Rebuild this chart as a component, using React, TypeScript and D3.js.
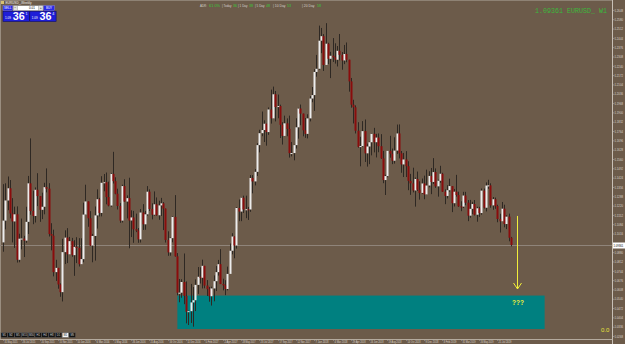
import React from 'react';
import * as d3 from 'd3';

// Weekly EURUSD candles, week of 1 Jun 2015 .. week of 2 Sep 2019 (last one in progress)
const firstOpen = 1.0955;
const closes = [
  1.1114,1.1261,1.1350,1.1166,1.1108,1.1160,1.0828,1.0982,1.0983,1.0968,
  1.1105,1.1386,1.1184,1.1148,1.1339,1.1293,1.1193,1.1215,1.1358,1.1347,
  1.1016,1.1004,1.0738,1.0769,1.0648,1.0592,1.0884,1.0990,1.0868,1.0964,
  1.0862,1.0922,1.0915,1.0796,1.0833,1.1158,1.1254,1.1131,1.0932,1.1002,
  1.1152,1.1270,1.1170,1.1390,1.1394,1.1286,1.1224,1.1455,1.1402,1.1310,
  1.1221,1.1114,1.1366,1.1253,1.1278,1.1115,1.1137,1.1051,1.1041,1.0977,
  1.1173,1.1087,1.1160,1.1325,1.1199,1.1157,1.1233,1.1153,1.1225,1.1240,
  1.1202,1.0973,1.0882,1.0986,1.1141,1.0853,1.0588,1.0588,1.0666,1.0564,
  1.0449,1.0453,1.0517,1.0533,1.0645,1.0704,1.0697,1.0784,1.0640,1.0614,
  1.0562,1.0619,1.0672,1.0738,1.0796,1.0651,1.0642,1.0615,1.0725,1.0894,
  1.0998,1.0932,1.1206,1.1180,1.1281,1.1195,1.1197,1.1195,1.1425,1.1400,
  1.1470,1.1665,1.1752,1.1775,1.1821,1.1760,1.1925,1.1860,1.2036,1.1943,
  1.1950,1.1813,1.1732,1.1824,1.1783,1.1606,1.1607,1.1665,1.1795,1.1932,
  1.1895,1.1773,1.1747,1.1860,1.2005,1.2030,1.2199,1.2222,1.2427,1.2460,
  1.2250,1.2405,1.2295,1.2317,1.2306,1.2288,1.2353,1.2324,1.2283,1.2330,
  1.2288,1.2130,1.1960,1.1941,1.1770,1.1652,1.1658,1.1767,1.1605,1.1655,
  1.1686,1.1747,1.1686,1.1720,1.1657,1.1568,1.1410,1.1439,1.1623,1.1602,
  1.1551,1.1625,1.1750,1.1605,1.1524,1.1560,1.1511,1.1404,1.1386,1.1334,
  1.1418,1.1339,1.1316,1.1385,1.1305,1.1370,1.1440,1.1396,1.1468,1.1364,
  1.1405,1.1456,1.1325,1.1294,1.1336,1.1366,1.1241,1.1325,1.1301,1.1218,
  1.1216,1.1297,1.1245,1.1150,1.1200,1.1235,1.1157,1.1204,1.1169,1.1333,
  1.1208,1.1370,1.1371,1.1225,1.1270,1.1220,1.1126,1.1109,1.1201,1.1089,
  1.1143,1.0989,1.0936,
];
const highs = [
  1.1380,1.1386,1.1436,1.1410,1.1278,1.1216,1.1218,1.1018,1.1129,1.1003,
  1.1215,1.1440,1.1714,1.1332,1.1356,1.1460,1.1290,1.1318,1.1390,1.1495,
  1.1387,1.1095,1.1048,1.0828,1.0761,1.0656,1.0981,1.1043,1.1059,1.0995,
  1.0988,1.0971,1.0993,1.0986,1.0985,1.1245,1.1376,1.1250,1.1183,1.1017,
  1.1217,1.1342,1.1280,1.1438,1.1454,1.1465,1.1398,1.1462,1.1616,1.1430,
  1.1347,1.1242,1.1376,1.1416,1.1298,1.1427,1.1189,1.1185,1.1165,1.1060,
  1.1198,1.1234,1.1185,1.1366,1.1342,1.1240,1.1327,1.1283,1.1259,1.1280,
  1.1249,1.1200,1.1036,1.0990,1.1147,1.1300,1.0877,1.0688,1.0686,1.0874,
  1.0670,1.0457,1.0652,1.0629,1.0685,1.0775,1.0773,1.0829,1.0775,1.0680,
  1.0630,1.0632,1.0714,1.0782,1.0827,1.0906,1.0690,1.0679,1.0778,1.0947,
  1.1022,1.0992,1.1211,1.1268,1.1284,1.1296,1.1296,1.1214,1.1446,1.1446,
  1.1490,1.1679,1.1777,1.1910,1.1846,1.1788,1.1940,1.2070,1.2092,1.2060,
  1.2034,1.1960,1.1832,1.1880,1.1860,1.1880,1.1688,1.1667,1.1861,1.1937,
  1.1961,1.1880,1.1863,1.1890,1.2023,1.2089,1.2219,1.2323,1.2537,1.2520,
  1.2475,1.2555,1.2412,1.2346,1.2446,1.2408,1.2388,1.2476,1.2344,1.2396,
  1.2414,1.2280,1.2155,1.1996,1.1955,1.1832,1.1726,1.1840,1.1852,1.1676,
  1.1690,1.1749,1.1791,1.1747,1.1750,1.1745,1.1623,1.1449,1.1623,1.1733,
  1.1640,1.1722,1.1815,1.1816,1.1622,1.1608,1.1621,1.1547,1.1455,1.1500,
  1.1428,1.1472,1.1401,1.1421,1.1442,1.1486,1.1474,1.1498,1.1570,1.1495,
  1.1413,1.1514,1.1463,1.1342,1.1372,1.1420,1.1364,1.1345,1.1448,1.1325,
  1.1255,1.1324,1.1324,1.1264,1.1265,1.1251,1.1264,1.1215,1.1215,1.1348,
  1.1348,1.1393,1.1412,1.1386,1.1286,1.1282,1.1230,1.1164,1.1250,1.1230,
  1.1153,1.1165,1.0995,
];
const lows = [
  1.0887,1.1050,1.1190,1.1130,1.0955,1.0915,1.0808,1.0810,1.0904,1.0848,
  1.0952,1.1016,1.1157,1.1088,1.1100,1.1220,1.1105,1.1125,1.1160,1.1320,
  1.0998,1.0897,1.0707,1.0674,1.0617,1.0558,1.0524,1.0797,1.0804,1.0882,
  1.0850,1.0711,1.0804,1.0779,1.0810,1.0810,1.1155,1.1069,1.0930,1.0810,
  1.0822,1.1056,1.1144,1.1145,1.1328,1.1233,1.1218,1.1215,1.1385,1.1306,
  1.1195,1.1098,1.1100,1.1251,1.1130,1.0912,1.0994,1.0952,1.1030,1.0952,
  1.0954,1.1046,1.1047,1.1150,1.1184,1.1123,1.1150,1.1150,1.1120,1.1148,
  1.1045,1.0954,1.0857,1.0858,1.0956,1.0851,1.0569,1.0518,1.0551,1.0504,
  1.0364,1.0352,1.0367,1.0340,1.0454,1.0579,1.0655,1.0619,1.0620,1.0564,
  1.0522,1.0494,1.0525,1.0600,1.0713,1.0651,1.0605,1.0570,1.0605,1.0725,
  1.0868,1.0839,1.0910,1.1110,1.1110,1.1170,1.1132,1.1119,1.1178,1.1313,
  1.1371,1.1440,1.1612,1.1730,1.1688,1.1661,1.1740,1.1822,1.1860,1.1838,
  1.1861,1.1717,1.1669,1.1731,1.1730,1.1574,1.1583,1.1554,1.1640,1.1712,
  1.1810,1.1729,1.1718,1.1714,1.1838,1.1978,1.1915,1.2164,1.2215,1.2336,
  1.2206,1.2257,1.2256,1.2154,1.2272,1.2260,1.2239,1.2284,1.2215,1.2256,
  1.2270,1.2055,1.1938,1.1823,1.1750,1.1646,1.1510,1.1652,1.1542,1.1508,
  1.1526,1.1590,1.1612,1.1575,1.1613,1.1565,1.1387,1.1301,1.1430,1.1573,
  1.1526,1.1530,1.1601,1.1568,1.1463,1.1432,1.1432,1.1336,1.1302,1.1320,
  1.1216,1.1330,1.1267,1.1310,1.1270,1.1303,1.1357,1.1307,1.1381,1.1353,
  1.1289,1.1390,1.1323,1.1234,1.1276,1.1324,1.1176,1.1217,1.1289,1.1214,
  1.1183,1.1206,1.1226,1.1110,1.1135,1.1161,1.1151,1.1106,1.1141,1.1157,
  1.1202,1.1181,1.1346,1.1208,1.1193,1.1200,1.1102,1.1027,1.1113,1.1065,
  1.1052,1.0963,1.0926,
];

const dateLabels = [
  '31 May 2015','26 Jul 2015','20 Sep 2015','15 Nov 2015','10 Jan 2016','6 Mar 2016',
  '1 May 2016','26 Jun 2016','21 Aug 2016','16 Oct 2016','11 Dec 2016','5 Feb 2017',
  '2 Apr 2017','28 May 2017','23 Jul 2017','17 Sep 2017','12 Nov 2017','7 Jan 2018',
  '4 Mar 2018','29 Apr 2018','24 Jun 2018','19 Aug 2018','14 Oct 2018','9 Dec 2018',
  '3 Feb 2019','31 Mar 2019','26 May 2019','21 Jul 2019',
];
const dateLabelEvery = 8;

const priceLabels = [
  '1.2716','1.2648','1.2580','1.2512','1.2444','1.2376','1.2308','1.2240','1.2172','1.2104',
  '1.2036','1.1968','1.1900','1.1832','1.1764','1.1696','1.1628','1.1560','1.1492','1.1424',
  '1.1356','1.1288','1.1220','1.1152','1.1084','1.1016','1.0948','1.0880','1.0812','1.0744',
  '1.0676','1.0608','1.0540','1.0472','1.0404','1.0336','1.0268',
];

const bid = 1.09361;
const zone = { startBar: 76.2, endBar: 236.7, top: 1.0567, bottom: 1.0323 };
const arrow = { bar: 224.5, from: 1.1148, to: 1.0615 };
const adrParts = ['ADR:', '61 0%', '| Today', '36', '| 1 Day', '38', '| 5 Day', '48', '| 10 Day', '53', '| 20 Day', '58'];
const adrX = [200, 209, 222, 233, 238, 249, 255, 266, 273, 287, 302, 317];
const adrW = [7, 11, 9.5, 4, 9.5, 4, 9.5, 4, 12.5, 4, 12.5, 4];
const tfButtons = ['M1', 'M2', 'M5', 'M15', 'M30', 'H1', 'H4', 'H8', 'D1', 'W1', 'MN'];
const activeTf = 'W1';

const W = 625, H = 344;
const BG = '#6c5b4a';
const AXIS_X = 612.5;
const BOTTOM = 339;

export default function App() {
  const x = d3.scaleLinear().domain([0, closes.length - 1]).range([3, 511]);
  const y = d3.scaleLinear().domain([1.025, 1.2724]).range([BOTTOM, 0]);
  const bidY = Math.round(y(bid)) + 0.5;
  const font = 'Liberation Sans, Arial, sans-serif';

  const candles = closes.map((c, i) => {
    const o = i === 0 ? firstOpen : closes[i - 1];
    const hi = Math.max(highs[i], o, c);
    const lo = Math.min(lows[i], o, c);
    return { i, o, c, hi, lo, up: c >= o };
  });

  const ax = Math.round(x(arrow.bar)) + 0.5;
  const ay1 = y(arrow.from);
  const ay2 = y(arrow.to);

  return (
    <svg width={W} height={H} style={{ position: 'fixed', left: 0, top: 0, display: 'block' }}
      fontFamily={font}>
      <rect x={0} y={0} width={W} height={H} fill={BG} />

      {/* frame */}
      <line x1={0.5} y1={0} x2={0.5} y2={BOTTOM} stroke="#9a8e80" strokeWidth={1} />
      <line x1={0} y1={0.5} x2={AXIS_X} y2={0.5} stroke="#8e8274" strokeWidth={1} />

      {/* demand zone */}
      <rect x={x(zone.startBar)} y={y(zone.top)} width={x(zone.endBar) - x(zone.startBar)}
        height={y(zone.bottom) - y(zone.top)} fill="#008080" />

      {/* bid line */}
      <line x1={0} y1={bidY} x2={AXIS_X} y2={bidY} stroke="#8f847a" strokeWidth={1} />

      {/* candles */}
      {candles.map(d => {
        const cx = Math.round(x(d.i));
        const top = y(Math.max(d.o, d.c));
        const bot = y(Math.min(d.o, d.c));
        return (
          <g key={d.i}>
            <line x1={cx + 0.5} x2={cx + 0.5} y1={y(d.hi)} y2={y(d.lo)} stroke="#2e2823" strokeWidth={1} />
            <rect x={cx - 0.5} y={top} width={2} height={Math.max(1, bot - top)}
              fill={d.up ? '#ececec' : '#8a0c0c'} />
          </g>
        );
      })}

      {/* arrow */}
      <line x1={ax} x2={ax} y1={ay1} y2={ay2} stroke="#f2ee3a" strokeWidth={1} />
      <polyline points={`${ax - 4},${ay2 - 6} ${ax},${ay2} ${ax + 4},${ay2 - 6}`} fill="none"
        stroke="#f2ee3a" strokeWidth={1} />
      <text x={ax + 0.5} y={304.5} fontSize={7} fontWeight="bold" fill="#f2ee3a" textAnchor="middle"
        textLength={12} lengthAdjust="spacingAndGlyphs">???</text>

      <text x={601} y={332} fontSize={6} fill="#e8e43a">0.0</text>

      {/* right price axis */}
      <line x1={AXIS_X} y1={0} x2={AXIS_X} y2={H} stroke="#c8c0b6" strokeWidth={1} />
      {priceLabels.map(l => {
        const py = y(parseFloat(l));
        if (Math.abs(py - bidY) < 5 || py < 3) return null;
        return (
          <g key={l}>
            <line x1={AXIS_X} x2={AXIS_X + 2} y1={py} y2={py} stroke="#c8c0b6" strokeWidth={0.5} />
            <text x={614.5} y={py + 1.2} fontSize={3.2} fill="#ddd6ce" textLength={8.5}
              lengthAdjust="spacingAndGlyphs">{l}</text>
          </g>
        );
      })}
      <rect x={613} y={bidY - 3} width={12} height={6} fill="#ffffff" />
      <text x={613.6} y={bidY + 1.3} fontSize={3.4} fill="#000" textLength={9.6}
        lengthAdjust="spacingAndGlyphs">{bid.toFixed(5)}</text>

      {/* bottom time axis */}
      <line x1={0} y1={BOTTOM + 0.5} x2={AXIS_X} y2={BOTTOM + 0.5} stroke="#b4aa9e" strokeWidth={1} />
      {dateLabels.map((l, k) => {
        const tx = Math.round(x(k * dateLabelEvery)) + 0.5;
        return (
          <g key={l}>
            <line x1={tx} x2={tx} y1={BOTTOM} y2={BOTTOM + 2} stroke="#b4aa9e" strokeWidth={0.5} />
            <text x={tx + 1} y={343} fontSize={2.6} fill="#ddd6ce" textLength={13}
              lengthAdjust="spacingAndGlyphs">{l}</text>
          </g>
        );
      })}

      {/* timeframe buttons */}
      {tfButtons.map((t, k) => {
        const bx = 1 + k * 6.8;
        const active = t === activeTf;
        return (
          <g key={t}>
            <rect x={bx} y={332.8} width={6.4} height={4.6} fill={active ? '#f4f4f4' : '#141414'}
              stroke="#5a5a5a" strokeWidth={0.4} />
            <text x={bx + 3.2} y={336.3} fontSize={2.6} fill={active ? '#000' : '#d0d0d0'}
              textAnchor="middle" textLength={t.length > 2 ? 5 : 3.6}
              lengthAdjust="spacingAndGlyphs">{t}</text>
          </g>
        );
      })}

      {/* top-left title and trading panel */}
      <rect x={1} y={1} width={3} height={3} fill="#d8c070" />
      <text x={5.5} y={4} fontSize={3.2} fill="#f0f0f0" textLength={26}
        lengthAdjust="spacingAndGlyphs">EURUSD_,Weekly</text>

      <rect x={3} y={5.7} width={9.5} height={5} fill="#2a2ae8" stroke="#8c8cff" strokeWidth={0.4} />
      <text x={7.75} y={9.4} fontSize={3} fill="#fff" textAnchor="middle">SELL</text>
      <rect x={13.2} y={5.7} width={29.8} height={5} fill="#ffffff" stroke="#808080" strokeWidth={0.4} />
      <rect x={13.2} y={5.7} width={4.2} height={5} fill="#e0e0e0" stroke="#808080" strokeWidth={0.4} />
      <text x={15.3} y={9.4} fontSize={3.4} fill="#000" textAnchor="middle">−</text>
      <text x={32} y={9.4} fontSize={3} fill="#000" textAnchor="middle">0.01</text>
      <rect x={38.6} y={5.7} width={4.4} height={5} fill="#e0e0e0" stroke="#808080" strokeWidth={0.4} />
      <text x={40.8} y={9.4} fontSize={3.4} fill="#000" textAnchor="middle">+</text>
      <rect x={43.8} y={5.7} width={10.5} height={5} fill="#2a2ae8" stroke="#8c8cff" strokeWidth={0.4} />
      <text x={49} y={9.4} fontSize={3} fill="#fff" textAnchor="middle">BUY</text>

      {[{ bx: 3, sup: '1' }, { bx: 29.8, sup: '4' }].map(p => (
        <g key={p.bx}>
          <rect x={p.bx} y={11.2} width={26.3} height={10.2} fill="#1e1ed8" stroke="#0a0a6a" strokeWidth={0.6} />
          <text x={p.bx + 2} y={19} fontSize={3} fill="#fff">1.09</text>
          <text x={p.bx + 9.8} y={20.2} fontSize={10} fontWeight="bold" fill="#fff" textLength={12}
            lengthAdjust="spacingAndGlyphs">36</text>
          <text x={p.bx + 22.4} y={15} fontSize={3.6} fill="#fff">{p.sup}</text>
        </g>
      ))}

      {/* ADR info */}
      {adrParts.map((t, k) => (
        <text key={k} x={adrX[k]} y={7} fontSize={3.8} fill={k % 2 === 1 ? '#38c838' : '#d4d0cc'}
          textLength={adrW[k]} lengthAdjust="spacingAndGlyphs">{t}</text>
      ))}

      {/* symbol / price */}
      <text x={535} y={13} fontSize={6.6} fontFamily="Liberation Mono, DejaVu Sans Mono, monospace"
        fill="#3cb83c" textLength={72} lengthAdjust="spacingAndGlyphs">1.09361 EURUSD_ W1</text>
    </svg>
  );
}
